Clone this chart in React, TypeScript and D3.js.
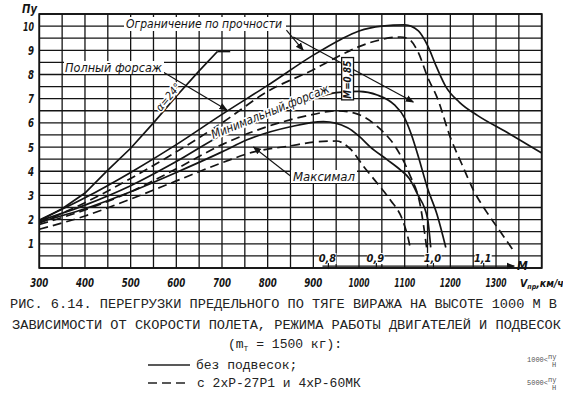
import React from 'react';
import * as d3 from 'd3';

type Pt = [number, number];

// axis ticks
const speedTicks = [300, 400, 500, 600, 700, 800, 900, 1000, 1100, 1200, 1300];
const nyTicks = [1, 2, 3, 4, 5, 6, 7, 8, 9, 10];
const machTicks: { m: string; v: number }[] = [
  { m: '0,8', v: 933 },
  { m: '0,9', v: 1038 },
  { m: '1,0', v: 1163 },
  { m: '1,1', v: 1273 },
];

// alpha = 24 deg limit
const alphaLimit: Pt[] = [[300, 1.95], [350, 2.45], [400, 3.1], [450, 4.05], [500, 4.95], [550, 6.0], [600, 7.1], [650, 8.15], [690, 8.95]];
const alphaCap: Pt[] = [[690, 8.95], [718, 8.95]];

// full afterburner
const fullClean: Pt[] = [[300, 1.98], [400, 2.9], [500, 3.95], [600, 5.1], [700, 6.35], [800, 7.55], [900, 8.8], [960, 9.45], [1000, 9.8], [1050, 10.0], [1100, 10.05], [1130, 9.8], [1150, 9.2], [1170, 8.3], [1190, 7.5], [1220, 6.85], [1260, 6.3], [1320, 5.65], [1400, 4.75]];
const fullStores: Pt[] = [[300, 1.85], [400, 2.7], [500, 3.7], [600, 4.8], [700, 6.0], [800, 7.3], [900, 8.2], [960, 8.8], [1000, 9.15], [1050, 9.45], [1090, 9.55], [1110, 9.45], [1130, 8.9], [1150, 7.9], [1172, 7.0], [1200, 5.4], [1225, 4.3], [1251, 3.2], [1280, 2.3], [1304, 1.65], [1337, 0.75]];

// minimum afterburner
const minClean: Pt[] = [[300, 1.95], [400, 2.6], [500, 3.4], [600, 4.4], [700, 5.5], [800, 6.3], [900, 7.0], [950, 7.25], [1000, 7.3], [1040, 7.15], [1077, 6.75], [1100, 6.2], [1115, 5.5], [1130, 4.6], [1150, 3.3], [1171, 2.2], [1190, 0.85]];
const minStores: Pt[] = [[300, 1.8], [400, 2.4], [500, 3.15], [600, 4.1], [700, 5.1], [800, 5.85], [900, 6.35], [950, 6.5], [990, 6.4], [1040, 5.85], [1080, 5.0], [1110, 3.9], [1135, 2.5], [1148, 0.85]];

// maximal (military) power
const maxClean: Pt[] = [[300, 1.9], [400, 2.45], [500, 3.15], [600, 3.95], [700, 4.8], [755, 5.3], [850, 5.84], [922, 6.05], [975, 5.8], [1000, 5.45], [1025, 5.0], [1060, 4.5], [1091, 4.05], [1110, 3.7], [1128, 3.05], [1150, 2.05], [1157, 0.85]];
const maxStores: Pt[] = [[300, 1.6], [400, 2.15], [500, 2.85], [600, 3.6], [700, 4.35], [770, 4.8], [850, 5.05], [900, 5.2], [950, 5.25], [982, 4.9], [1010, 4.2], [1040, 3.5], [1069, 2.8], [1095, 2.0], [1108, 1.2], [1112, 0.85]];

const captionLines = [
  'РИС. 6.14. ПЕРЕГРУЗКИ ПРЕДЕЛЬНОГО ПО ТЯГЕ ВИРАЖА НА ВЫСОТЕ 1000 М В',
  'ЗАВИСИМОСТИ ОТ СКОРОСТИ ПОЛЕТА, РЕЖИМА РАБОТЫ ДВИГАТЕЛЕЙ И ПОДВЕСОК',
];

const ink = '#141414';
const drawFont = "'DejaVu Sans Condensed','Liberation Sans Narrow',sans-serif";
const typeFont = "'Liberation Mono','DejaVu Sans Mono',monospace";

export default function App() {
  const x = d3.scaleLinear().domain([300, 1400]).range([39.3, 541.7]);
  const y = d3.scaleLinear().domain([0, 10.5]).range([268, 14]);

  const smooth = d3.line<Pt>().x(d => x(d[0])).y(d => y(d[1])).curve(d3.curveMonotoneX);
  const straight = d3.line<Pt>().x(d => x(d[0])).y(d => y(d[1]));

  const vGrid = d3.range(300, 1401, 50);
  const hGrid = d3.range(0, 10.51, 0.5);

  const dash = '9 5';
  const lbl = { fontFamily: drawFont, fontStyle: 'italic' as const, fill: ink };

  const machY = y(0.08);

  return (
    <svg width={563} height={395} style={{ position: 'absolute', left: 0, top: 0, background: '#fff' }}>
      <defs>
        <marker id="arr" viewBox="0 0 10 10" refX="9" refY="5" markerWidth="7" markerHeight="7" orient="auto">
          <path d="M0,1 L10,5 L0,9 Z" fill={ink} />
        </marker>
      </defs>

      {/* grid */}
      <g stroke={ink} strokeWidth={1.3}>
        {vGrid.map(v => (
          <line key={'v' + v} x1={x(v)} x2={x(v)} y1={y(0)} y2={y(10.5)} />
        ))}
        {hGrid.map(v => (
          <line key={'h' + v} x1={x(300)} x2={x(1400)} y1={y(v)} y2={y(v)} />
        ))}
      </g>
      <rect x={x(300)} y={y(10.5)} width={x(1400) - x(300)} height={y(0) - y(10.5)} fill="none" stroke={ink} strokeWidth={1.8} />

      {/* curves */}
      <g fill="none" stroke={ink} strokeWidth={1.7}>
        <path d={straight(alphaLimit)!} />
        <path d={straight(alphaCap)!} />
        <path d={smooth(fullClean)!} />
        <path d={smooth(fullStores)!} strokeDasharray={dash} />
        <path d={smooth(minClean)!} />
        <path d={smooth(minStores)!} strokeDasharray={dash} />
        <path d={smooth(maxClean)!} />
        <path d={smooth(maxStores)!} strokeDasharray={dash} />
      </g>

      {/* leaders */}
      <g stroke={ink} strokeWidth={1.2} fill="none">
        <line x1={x(841)} y1={y(9.83)} x2={x(878)} y2={y(9.0)} markerEnd="url(#arr)" />
        <line x1={x(856)} y1={y(9.55)} x2={x(1119)} y2={y(6.86)} markerEnd="url(#arr)" />
        <line x1={x(571)} y1={y(8.1)} x2={x(711)} y2={y(6.53)} markerEnd="url(#arr)" />
        <line x1={x(850)} y1={y(3.8)} x2={x(769)} y2={y(5.0)} markerEnd="url(#arr)" />
      </g>

      {/* labels inside plot */}
      <rect x={124} y={17} width={162} height={14} fill="#fff" />
      <text x={126} y={28} fontSize={12.5} textLength={156} lengthAdjust="spacingAndGlyphs" {...lbl}>Ограничение по прочности</text>
      <rect x={64} y={61} width={100} height={13} fill="#fff" />
      <text x={65} y={72} fontSize={12.5} textLength={97} lengthAdjust="spacingAndGlyphs" {...lbl}>Полный форсаж</text>
      <rect x={291} y={170} width={66} height={13} fill="#fff" />
      <text x={293} y={181} fontSize={12.5} textLength={62} lengthAdjust="spacingAndGlyphs" {...lbl}>Максимал</text>
      <text
        transform={`translate(${x(566)},${y(6.45)}) rotate(-50)`}
        fontSize={11} {...lbl}
        stroke="#fff" strokeWidth={3} paintOrder="stroke"
      >α=24°</text>
      <text
        transform={`translate(${x(681)},${y(5.33)}) rotate(-22)`}
        fontSize={12.5} {...lbl} textLength={126} lengthAdjust="spacingAndGlyphs"
        stroke="#fff" strokeWidth={3} paintOrder="stroke"
      >Минимальный форсаж</text>
      <rect x={x(962)} y={y(8.7)} width={x(988) - x(962)} height={y(6.95) - y(8.7)} fill="#fff" stroke={ink} strokeWidth={1.3} />
      <text
        transform={`translate(${x(982)},${y(7.0)}) rotate(-90)`}
        fontSize={10} {...lbl} fontWeight="bold" textLength={38} lengthAdjust="spacingAndGlyphs"
      >М=0,85</text>

      {/* Mach scale */}
      {machTicks.map(t => (
        <g key={t.m}>
          <rect x={x(t.v) - 9} y={machY - 13} width={17} height={11} fill="#fff" />
          <text x={x(t.v) - 1} y={machY - 4} fontSize={11} textAnchor="middle" fontWeight="bold" {...lbl}>{t.m}</text>
          <line x1={x(t.v)} x2={x(t.v)} y1={machY - 3} y2={machY + 3} stroke={ink} strokeWidth={1.2} />
        </g>
      ))}
      <line x1={x(920)} x2={x(1340)} y1={machY} y2={machY} stroke={ink} strokeWidth={1.2} markerEnd="url(#arr)" />
      <text x={x(1346)} y={machY + 4} fontSize={12} fontWeight="bold" {...lbl}>М</text>

      {/* y axis */}
      {nyTicks.map(t => (
        <text key={t} x={34} y={y(t) + 4.5} textAnchor="end" fontSize={13} fontWeight="bold"
          textLength={t === 10 ? 11 : 6} lengthAdjust="spacingAndGlyphs" {...lbl}>{t}</text>
      ))}
      <text x={22} y={13} fontSize={13} fontWeight="bold" textLength={15} lengthAdjust="spacingAndGlyphs" {...lbl}>Пу</text>

      {/* x axis */}
      {speedTicks.map(t => (
        <text key={t} x={x(t)} y={287} textAnchor="middle" fontSize={13} fontWeight="bold"
          textLength={t >= 1000 ? 21 : 18} lengthAdjust="spacingAndGlyphs" {...lbl}>{t}</text>
      ))}
      <text x={520} y={287} fontSize={10.5} fontWeight="bold" {...lbl}>
        V<tspan fontSize={7} dy={2}>пр</tspan><tspan dy={-2}>,км/ч</tspan>
      </text>

      {/* caption */}
      <g fontFamily={typeFont} fill="#222" fontSize={13}>
        <text x={10} y={308} textLength={547} lengthAdjust="spacingAndGlyphs">{captionLines[0]}</text>
        <text x={12} y={329} textLength={549} lengthAdjust="spacingAndGlyphs">{captionLines[1]}</text>
        <text x={228} y={348}>
          (m<tspan fontSize={8} dy={3}>T</tspan><tspan dy={-3}> = 1500 кг):</tspan>
        </text>
        <line x1={148} x2={190} y1={365} y2={365} stroke="#222" strokeWidth={1.3} />
        <text x={196} y={369}>без подвесок;</text>
        <line x1={148} x2={190} y1={383} y2={383} stroke="#222" strokeWidth={1.3} strokeDasharray="9 5" />
        <text x={197} y={387}>с 2хР-27Р1 и 4хР-60МК</text>
      </g>
      <g fontFamily={typeFont} fill="#555" fontSize={7}>
        <text x={527} y={362}>1000&lt;<tspan dy={-3}>пу</tspan></text>
        <text x={552} y={367}>Н</text>
        <text x={527} y={385}>5000&lt;<tspan dy={-3}>пу</tspan></text>
        <text x={552} y={390}>Н</text>
      </g>
    </svg>
  );
}
